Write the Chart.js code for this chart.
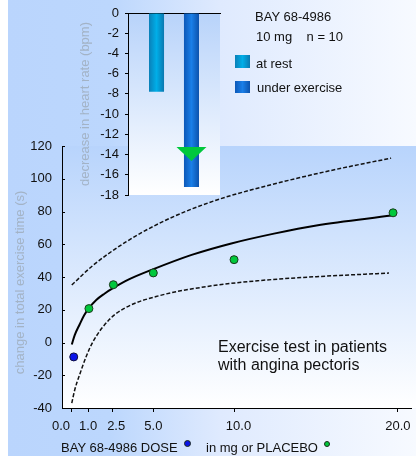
<!DOCTYPE html>
<html>
<head>
<meta charset="utf-8">
<script src="https://cdn.jsdelivr.net/npm/chart.js@4.4.1/dist/chart.umd.min.js"></script>
<style>
  body { margin: 0; background: #fff; }
  #wrap { position: relative; width: 416px; height: 456px; overflow: hidden;
          font-family: "Liberation Sans", Arial, sans-serif; color: #111; }
  canvas { position: absolute; left: 0; top: 0; }
  .txt { position: absolute; font-size: 13px; line-height: 15px; white-space: pre; }
  .big { position: absolute; font-size: 16px; line-height: 18px; white-space: pre; }
  .key { position: absolute; width: 15px; height: 13px; }
  .dot { position: absolute; width: 7px; height: 7px; border-radius: 50%;
         box-sizing: border-box; border: 1px solid #1c2a1c; }
</style>
</head>
<body>
<div id="wrap">
  <canvas id="main" width="416" height="456"></canvas>
  <canvas id="inset" width="222" height="200"></canvas>

  <div class="txt" style="left:255px;top:9px">BAY 68-4986</div>
  <div class="txt" style="left:256px;top:29px">10 mg    n = 10</div>
  <div class="key" style="left:235px;top:55px;background:linear-gradient(90deg,#0a80b8,#00aee8 50%,#0a78b0)"></div>
  <div class="txt" style="left:256px;top:56px">at rest</div>
  <div class="key" style="left:235px;top:81px;height:12px;background:linear-gradient(90deg,#0c58b8,#1a7fe8 50%,#0c52ac)"></div>
  <div class="txt" style="left:257px;top:80px">under exercise</div>

  <div class="big" style="left:218px;top:338px">Exercise test in patients
with angina pectoris</div>

  <div class="txt" style="left:61px;top:440px">BAY 68-4986 DOSE</div>
  <div class="dot" style="left:184px;top:440px;background:#0a14e8"></div>
  <div class="txt" style="left:206px;top:440px">in mg or PLACEBO</div>
  <div class="dot" style="left:324px;top:441px;width:6px;height:6px;background:#00c83c"></div>
</div>

<script>
// change in total exercise time (s) vs dose (mg)
const doseTicks = [0, 1, 2.5, 5, 10, 20];
const doseLabels = ['0.0', '1.0', '2.5', '5.0', '10.0', '20.0'];

const placeboDose = [0.12];
const placeboChange = [-8.8];

const bayDose = [1.05, 2.55, 5.0, 9.95, 19.7];
const bayChange = [20.7, 35.3, 42.5, 50.6, 79.2];

// fitted curve and its confidence band
const fitDose = [0, 0.18, 0.48, 0.75, 1.05, 1.5, 2.0, 2.5, 3.5, 4.93, 7.35, 9.78, 12.4, 15.0, 19.6];
const fitChange = [-1.2, 4.5, 11, 16.5, 21, 26, 29.8, 33, 38.5, 44.5, 53.5, 60.5, 66.5, 71.5, 77.5];

const upperDose = [0, 1.29, 3.32, 5.33, 7.35, 9.38, 11.39, 13.82, 16.24, 19.58];
const upperChange = [35.1, 47, 61.4, 72.6, 81.5, 88.6, 94.2, 100.3, 105.8, 112.6];

const lowerDose = [0, 0.18, 0.48, 0.89, 1.3, 2.3, 3.3, 5.33, 8.3, 11.4, 15.0, 19.45];
const lowerChange = [-37, -29, -19.7, -8.4, 0.5, 14, 21.3, 28.5, 34.2, 37.7, 40.2, 42.4];

// inset: decrease in heart rate (bpm), BAY 68-4986 10 mg, n = 10
const hrGroups = ['BAY 68-4986 10 mg'];
const restDecrease = [-7.8];
const exerciseDecrease = [-17.2];
const exerciseMarker = -13.95;

function pts(xs, ys) {
    return xs.map(function(x, i) { return {x: x, y: ys[i]}; });
}

var mainBack = {
    id: 'mainBack',
    beforeDraw: function(chart) {
        var ctx = chart.ctx, a = chart.chartArea;
        ctx.save();
        var g = ctx.createLinearGradient(8, 0, chart.width, 0);
        g.addColorStop(0, '#bad5fd');
        g.addColorStop(0.25, '#bcd7fd');
        g.addColorStop(0.52, '#dfeafe');
        g.addColorStop(1, '#f7faff');
        ctx.fillStyle = g;
        ctx.fillRect(8, 0, chart.width - 8, chart.height);
        var v = ctx.createLinearGradient(0, a.top, 0, a.bottom);
        v.addColorStop(0, '#b8d4fc');
        v.addColorStop(1, '#ffffff');
        ctx.fillStyle = v;
        ctx.fillRect(a.left, a.top, chart.width - a.left, a.bottom - a.top);
        ctx.restore();
    },
    afterDraw: function(chart) {
        // y tick marks point into the plot
        var y = chart.scales.y, ctx = chart.ctx;
        ctx.save();
        ctx.strokeStyle = '#000';
        ctx.lineWidth = 1;
        y.ticks.forEach(function(t) {
            var py = Math.round(y.getPixelForValue(t.value)) + 0.5;
            ctx.beginPath();
            ctx.moveTo(y.right, py);
            ctx.lineTo(y.right + 3, py);
            ctx.stroke();
        });
        ctx.restore();
    }
};

function noPad(s) {
    s.paddingLeft = 0; s.paddingRight = 0; s.paddingTop = 0; s.paddingBottom = 0;
}

new Chart(document.getElementById('main'), {
    type: 'scatter',
    data: {
        datasets: [{
            label: 'PLACEBO',
            data: pts(placeboDose, placeboChange),
            backgroundColor: '#0a14e8',
            borderColor: '#101040',
            borderWidth: 1,
            pointRadius: 4
        }, {
            label: 'BAY 68-4986',
            data: pts(bayDose, bayChange),
            backgroundColor: '#00c83c',
            borderColor: '#1c3a1c',
            borderWidth: 1,
            pointRadius: 4
        }, {
            label: 'fit',
            data: pts(fitDose, fitChange),
            showLine: true,
            borderColor: '#000',
            borderWidth: 2,
            pointRadius: 0,
            cubicInterpolationMode: 'monotone'
        }, {
            label: 'upper',
            data: pts(upperDose, upperChange),
            showLine: true,
            borderColor: '#111',
            borderWidth: 1.5,
            borderDash: [4, 2],
            pointRadius: 0,
            cubicInterpolationMode: 'monotone'
        }, {
            label: 'lower',
            data: pts(lowerDose, lowerChange),
            showLine: true,
            borderColor: '#111',
            borderWidth: 1.5,
            borderDash: [4, 2],
            pointRadius: 0,
            cubicInterpolationMode: 'monotone'
        }]
    },
    options: {
        responsive: false,
        animation: false,
        events: [],
        layout: { padding: { top: 146, right: 1, left: 0, bottom: 0 } },
        plugins: { legend: { display: false }, tooltip: { enabled: false } },
        scales: {
            x: {
                type: 'linear',
                min: -0.6,
                max: 20.8,
                afterBuildTicks: function(s) {
                    s.ticks = doseTicks.map(function(v) { return {value: v}; });
                },
                afterFit: function(s) { s.height = 48; noPad(s); },
                grid: { drawOnChartArea: false, tickLength: 4, color: '#000' },
                border: { color: '#000', width: 1 },
                ticks: {
                    padding: 7,
                    color: '#111',
                    font: { family: 'Liberation Sans', size: 13 },
                    maxRotation: 0,
                    autoSkip: false,
                    // the original nudges 0.0 left of its tick, 2.5 and 10.0 a little right
                    callback: function(v, i) {
                        if (i === 0) return doseLabels[i] + '      ';
                        if (i === 2 || i === 4) return '  ' + doseLabels[i];
                        return doseLabels[i];
                    }
                }
            },
            y: {
                min: -40,
                max: 120,
                afterFit: function(s) { s.width = 62; noPad(s); },
                grid: { drawOnChartArea: false, drawTicks: false },
                border: { color: '#000', width: 1 },
                ticks: {
                    stepSize: 20,
                    padding: 10,
                    color: '#111',
                    font: { family: 'Liberation Sans', size: 13 }
                },
                title: {
                    display: true,
                    text: 'change in total exercise time (s)   ',
                    color: '#a3b3c6',
                    font: { family: 'Liberation Sans', size: 13 },
                    padding: { top: 13, bottom: 0 }
                }
            }
        }
    },
    plugins: [mainBack]
});

var insetDraw = {
    id: 'insetDraw',
    beforeDraw: function(chart) {
        var ctx = chart.ctx, a = chart.chartArea;
        ctx.save();
        var v = ctx.createLinearGradient(0, a.top, 0, a.bottom);
        v.addColorStop(0, '#b8d3fa');
        v.addColorStop(1, '#ffffff');
        ctx.fillStyle = v;
        ctx.fillRect(a.left, a.top, a.right - a.left, a.bottom - a.top);
        ctx.restore();
    },
    beforeDatasetsDraw: function(chart) {
        var ctx = chart.ctx;
        chart.data.datasets.forEach(function(ds, di) {
            chart.getDatasetMeta(di).data.forEach(function(bar) {
                var half = bar.width / 2;
                var g = ctx.createLinearGradient(bar.x - half, 0, bar.x + half, 0);
                ds.shade.forEach(function(c, k) { g.addColorStop(k / (ds.shade.length - 1), c); });
                bar.options = Object.assign({}, bar.options, { backgroundColor: g });
            });
        });
    },
    afterDatasetsDraw: function(chart) {
        var bar = chart.getDatasetMeta(1).data[0];
        var y = chart.scales.y.getPixelForValue(exerciseMarker);
        var ctx = chart.ctx;
        ctx.save();
        ctx.fillStyle = '#00c83c';
        ctx.beginPath();
        ctx.moveTo(bar.x - 15, y - 7);
        ctx.lineTo(bar.x + 15, y - 7);
        ctx.lineTo(bar.x, y + 7);
        ctx.closePath();
        ctx.fill();
        ctx.restore();
    }
};

new Chart(document.getElementById('inset'), {
    type: 'bar',
    data: {
        labels: hrGroups,
        datasets: [{
            label: 'at rest',
            data: restDecrease,
            backgroundColor: '#00a0d8',
            shade: ['#0a80b8', '#00aee8', '#0a78b0']
        }, {
            label: 'under exercise',
            data: exerciseDecrease,
            backgroundColor: '#1a70d8',
            shade: ['#0c58b8', '#1a7fe8', '#0c52ac']
        }]
    },
    options: {
        responsive: false,
        animation: false,
        events: [],
        categoryPercentage: 0.76,
        barPercentage: 0.43,
        layout: { padding: { top: 13, right: 2, left: 0, bottom: 5 } },
        plugins: { legend: { display: false }, tooltip: { enabled: false } },
        scales: {
            x: {
                position: 'top',
                grid: { display: false },
                border: { display: true, color: '#000', width: 1 },
                ticks: { display: false },
                afterFit: function(s) { s.height = 0; noPad(s); }
            },
            y: {
                min: -18,
                max: 0,
                afterFit: function(s) { s.width = 128; noPad(s); },
                grid: { drawOnChartArea: false, tickLength: 3, color: '#000' },
                border: { color: '#000', width: 1 },
                ticks: {
                    stepSize: 2,
                    padding: 6,
                    color: '#111',
                    font: { family: 'Liberation Sans', size: 13 }
                },
                title: {
                    display: true,
                    text: 'decrease in heart rate (bpm)',
                    color: '#a3b3c6',
                    font: { family: 'Liberation Sans', size: 13 },
                    padding: { top: 78, bottom: 0 }
                }
            }
        }
    },
    plugins: [insetDraw]
});
</script>
</body>
</html>
